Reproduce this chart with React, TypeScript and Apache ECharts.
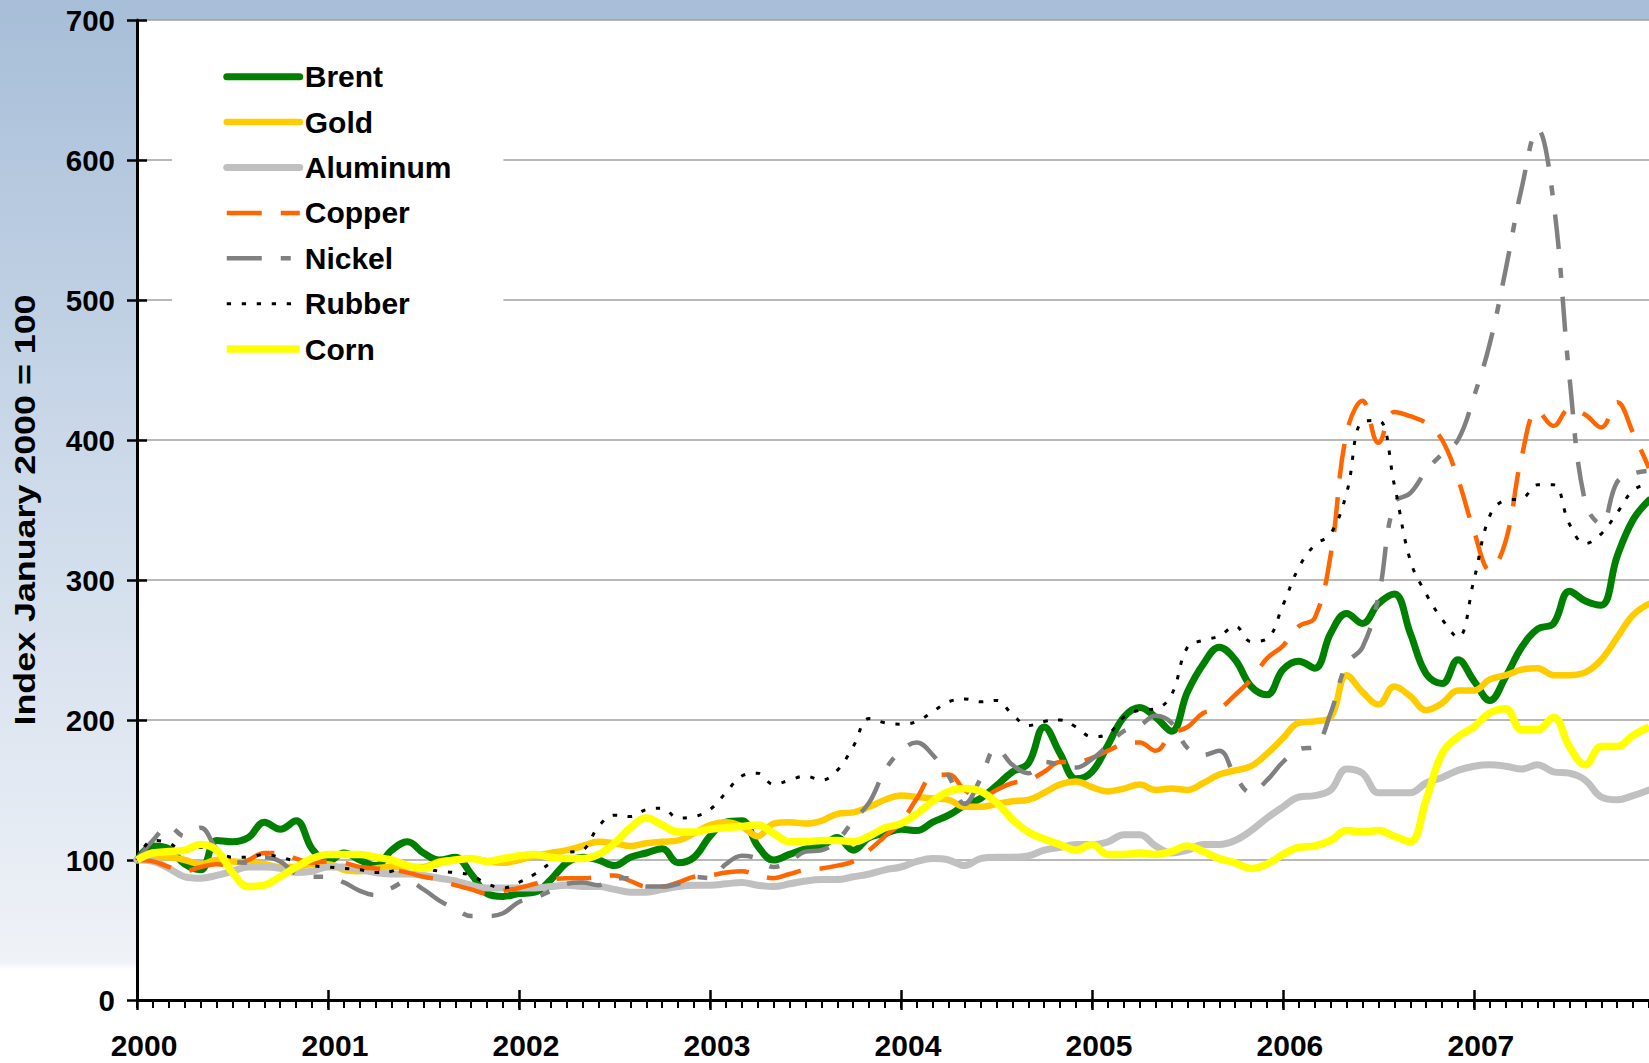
import React, { useEffect, useRef } from "react";
import * as echarts from "echarts";

const years = ["2000", "2001", "2002", "2003", "2004", "2005", "2006", "2007"];
const monthCodes = ["01", "02", "03", "04", "05", "06", "07", "08", "09", "10", "11", "12"];
const categories = years.flatMap((y) => monthCodes.map((m) => `${y}-${m}`));

const yTicks = { min: 0, max: 700, step: 100 };
const yTitle = "Index January 2000 = 100";

const seriesNames = ["Brent", "Gold", "Aluminum", "Copper", "Nickel", "Rubber", "Corn"];

const brent = [
  100, 110, 108, 97, 93, 114, 113, 116, 127, 122, 128, 108,
  99, 105, 100, 96, 107, 113, 105, 100, 102, 90, 76, 74,
  76, 77, 86, 98, 102, 100, 96, 102, 105, 108, 98, 102,
  117, 127, 128, 110, 100, 104, 108, 110, 116, 107, 116, 119,
  122, 121, 127, 132, 139, 144, 153, 163, 169, 195, 176, 158,
  163, 182, 202, 209, 202, 192, 220, 240, 252, 243, 224, 218,
  236, 242, 237, 262, 276, 269, 283, 290, 262, 233, 226, 243,
  228, 214, 231, 252, 265, 269, 292, 285, 282, 317, 343, 357,
];
const gold = [
  100, 102, 102, 100, 97, 100, 99, 98, 97, 95, 95, 97,
  97, 93, 92, 94, 95, 95, 95, 99, 100, 101, 99, 98,
  100, 103, 105, 107, 110, 113, 112, 110, 112, 113, 114, 119,
  125, 127, 124, 117, 126, 127, 126, 128, 133, 134, 138, 143,
  146, 145, 144, 143, 138, 138, 140, 142, 143, 148, 154, 156,
  152, 149, 151, 154, 150, 151, 150, 155, 161, 164, 167, 176,
  187, 198, 199, 202, 232, 220, 211, 224, 217, 207, 212, 221,
  221, 229, 232, 236, 237, 232, 232, 234, 243, 259, 275, 283,
];
const aluminum = [
  100, 99, 94, 88, 87, 89, 92, 95, 95, 94, 91, 92,
  95, 95, 93, 91, 90, 90, 89, 87, 85, 82, 80, 80,
  80, 80, 81, 82, 81, 81, 79, 77, 77, 79, 81, 82,
  82, 83, 84, 82, 81, 83, 85, 86, 86, 88, 90, 93,
  95, 99, 101, 100, 96, 101, 102, 102, 103, 107, 109, 111,
  111, 113, 118, 118, 110, 105, 107, 111, 111, 114, 121, 130,
  138, 145, 146, 150, 165, 162, 148, 148, 148, 155, 159, 164,
  167, 168, 167, 165, 168, 163, 162, 157, 145, 143, 146, 150,
];
const copper = [
  100, 99, 95, 92, 95, 97, 96, 100, 105, 105, 101, 98,
  99, 98, 95, 94, 93, 91, 88, 86, 82, 79, 76, 78,
  80, 83, 86, 87, 87, 88, 89, 85, 81, 81, 84, 88,
  89, 91, 92, 89, 87, 90, 93, 94, 96, 99, 107, 117,
  127, 144, 160, 161, 150, 144, 150, 155, 157, 163, 170, 170,
  173, 178, 183, 184, 178, 190, 195, 205, 208, 218, 229, 244,
  253, 267, 273, 318, 405, 428, 398, 420, 417, 412, 400, 372,
  335, 307, 328, 388, 421, 410, 422, 418, 409, 427, 405, 380,
];
const nickel = [
  100, 114, 124, 117, 123, 108, 99, 98, 102, 99, 90, 88,
  88, 84, 78, 75, 80, 85, 79, 71, 65, 60, 60, 62,
  70, 73, 78, 83, 84, 82, 87, 87, 81, 81, 83, 88,
  87, 97, 103, 101, 95, 99, 106, 107, 114, 128, 141, 164,
  178, 184, 175, 160, 140, 158, 180, 168, 162, 170, 168, 166,
  172, 182, 192, 196, 203, 198, 180, 175, 178, 160, 148, 157,
  170, 179, 181, 205, 240, 252, 288, 355, 362, 378, 390, 400,
  431, 469, 522, 580, 622, 570, 445, 355, 340, 370, 376, 378,
];
const rubber = [
  100, 114, 112, 106, 109, 106, 102, 102, 104, 102, 99, 96,
  95, 94, 93, 91, 92, 96, 94, 92, 91, 89, 83, 80,
  84, 90, 98, 105, 107, 124, 132, 131, 136, 137, 130, 131,
  136, 148, 160, 162, 154, 157, 160, 157, 164, 181, 201, 198,
  197, 199, 206, 213, 215, 213, 214, 204, 196, 199, 200, 195,
  188, 190, 202, 207, 208, 218, 252, 257, 260, 267, 256, 258,
  282, 309, 325, 333, 362, 413, 414, 368, 314, 290, 272, 259,
  300, 346, 357, 358, 368, 368, 340, 326, 333, 348, 364, 369,
];
const corn = [
  100, 105, 106, 107, 111, 107, 91, 81, 82, 88, 95, 101,
  104, 104, 104, 102, 100, 96, 94, 98, 100, 101, 99, 101,
  103, 104, 102, 101, 101, 104, 112, 123, 130, 125, 120, 120,
  122, 123, 124, 125, 119, 113, 113, 114, 114, 113, 117, 123,
  126, 133, 142, 149, 151, 149, 141, 129, 120, 115, 111, 107,
  111, 104, 104, 105, 104, 106, 110, 106, 101, 98, 94, 97,
  104, 109, 110, 114, 121, 120, 121, 117, 113, 143, 176, 188,
  195, 205, 208, 193, 193, 202, 181, 168, 181, 181, 189, 195,
];

const FONT = '"Liberation Sans", Arial, Helvetica, sans-serif';

export default function App() {
  const ref = useRef<HTMLDivElement>(null);

  useEffect(() => {
    document.body.style.margin = "0";
    const chart = echarts.init(ref.current!, null, { renderer: "svg" });
    const isYear = (i: number) => i % 12 === 0;

    const styles: Record<string, any> = {
      Brent: { color: "#008000", width: 7, type: "solid", cap: "round" },
      Gold: { color: "#ffcc00", width: 6.5, type: "solid", cap: "round" },
      Aluminum: { color: "#c0c0c0", width: 7, type: "solid", cap: "round" },
      Copper: { color: "#ff6600", width: 4.5, type: [35, 19] },
      Nickel: { color: "#808080", width: 4.5, type: [35, 19, 10, 19] },
      Rubber: { color: "#000000", width: 3, type: [4.3, 10.7] },
      Corn: { color: "#ffff00", width: 7.5, type: "solid" },
    };
    const values: Record<string, number[]> = {
      Brent: brent,
      Gold: gold,
      Aluminum: aluminum,
      Copper: copper,
      Nickel: nickel,
      Rubber: rubber,
      Corn: corn,
    };

    const baseX = {
      type: "category",
      data: categories,
      boundaryGap: false,
      position: "bottom",
      offset: 0,
      splitLine: { show: false },
    };
    const baseY = {
      type: "value",
      min: yTicks.min,
      max: yTicks.max,
      interval: yTicks.step,
      position: "left",
      offset: 0,
    };

    chart.setOption({
      animation: false,
      backgroundColor: {
        type: "linear",
        x: 0,
        y: 0,
        x2: 0,
        y2: 1,
        colorStops: [
          { offset: 0, color: "#a7bed8" },
          { offset: 0.45, color: "#cddaea" },
          { offset: 0.905, color: "#eff2f7" },
          { offset: 0.912, color: "#ffffff" },
          { offset: 1, color: "#ffffff" },
        ],
      },
      grid: {
        left: 137,
        top: 20,
        right: 0,
        bottom: 63,
        show: true,
        backgroundColor: "#ffffff",
        borderWidth: 0,
        containLabel: false,
      },
      xAxis: [
        {
          ...baseX,
          axisLine: { show: true, lineStyle: { color: "#000", width: 3 } },
          axisTick: { show: true, interval: 0, length: 8, lineStyle: { color: "#000", width: 2 } },
          axisLabel: {
            show: true,
            interval: (i: number) => isYear(i),
            formatter: (v: string) => v.slice(0, 4),
            fontSize: 30,
            fontWeight: "bold",
            fontFamily: FONT,
            color: "#000",
            margin: 30,
            padding: [0, 0, 0, 14],
          },
        },
        {
          ...baseX,
          axisLine: { show: false },
          axisTick: { show: true, interval: (i: number) => isYear(i), length: 10, lineStyle: { color: "#000", width: 2.5 } },
          axisLabel: { show: false },
        },
        {
          ...baseX,
          axisLine: { show: false },
          axisTick: { show: true, inside: true, interval: (i: number) => isYear(i), length: 10, lineStyle: { color: "#000", width: 2.5 } },
          axisLabel: { show: false },
        },
      ],
      yAxis: [
        {
          ...baseY,
          axisLine: { show: true, lineStyle: { color: "#000", width: 3 } },
          axisTick: { show: true, length: 10, lineStyle: { color: "#000", width: 2.5 } },
          axisLabel: {
            fontSize: 29.5,
            fontWeight: "bold",
            fontFamily: FONT,
            color: "#000",
            margin: 22,
          },
          splitLine: { show: true, lineStyle: { color: "#a0a0a0", width: 1.5 } },
        },
        {
          ...baseY,
          axisLine: { show: false },
          axisTick: { show: true, inside: true, length: 10, lineStyle: { color: "#000", width: 2.5 } },
          axisLabel: { show: false },
          splitLine: { show: false },
        },
      ],
      legend: {
        orient: "vertical",
        left: 172,
        top: 50,
        padding: [8.7, 52, 11, 51],
        itemGap: 9.4,
        itemWidth: 73,
        itemHeight: 14,
        backgroundColor: "#ffffff",
        itemStyle: { opacity: 0 },
        lineStyle: { width: "inherit", type: "inherit", color: "inherit", cap: "inherit" },
        textStyle: {
          fontSize: 30,
          fontWeight: "bold",
          fontFamily: FONT,
          color: "#000",
          lineHeight: 30,
          padding: [6, 0, 0, 0],
        },
        data: seriesNames,
      },
      graphic: [
        {
          type: "text",
          x: 25,
          y: 510,
          rotation: Math.PI / 2,
          scaleX: 1.235,
          style: {
            text: yTitle,
            font: `bold 29px ${FONT}`,
            fill: "#000",
            align: "center",
            verticalAlign: "middle",
            textAlign: "center",
            textVerticalAlign: "middle",
          },
        },
      ],
      series: seriesNames.map((name) => ({
        name,
        type: "line",
        data: values[name],
        xAxisIndex: 0,
        yAxisIndex: 0,
        smooth: 0.4,
        showSymbol: false,
        symbol: "none",
        lineStyle: styles[name],
        itemStyle: { color: styles[name].color },
        emphasis: { disabled: true },
      })),
    });

    return () => chart.dispose();
  }, []);

  return (
    <div
      ref={ref}
      style={{ position: "absolute", left: 0, top: 0, width: 1649, height: 1063 }}
    />
  );
}
